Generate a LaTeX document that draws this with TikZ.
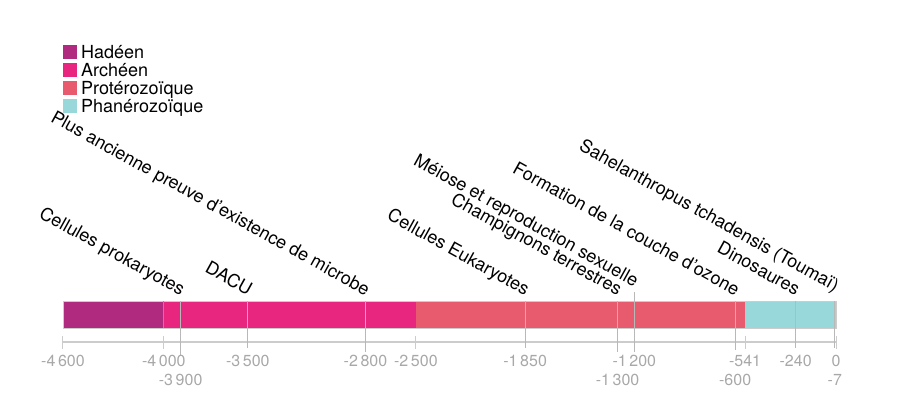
\documentclass[tikz,border=0pt]{standalone}
\usepackage{fontspec}
\setmainfont{TeX Gyre Heros}
\definecolor{hadeen}{HTML}{B02A7F}
\definecolor{archeen}{HTML}{E8257F}
\definecolor{proterozoique}{HTML}{E85A6E}
\definecolor{phanerozoique}{HTML}{98D8DA}
\definecolor{chiffres}{HTML}{A8A8A8}
\definecolor{axe}{HTML}{CCCCCC}
\definecolor{repere}{HTML}{B8B8B8}
\tikzset{
  evenement/.style={rotate=-29, anchor=base east, inner sep=0pt, font=\fontsize{18}{20}\selectfont},
  annee/.style={anchor=base, inner sep=0pt, text=chiffres, font=\fontsize{16}{18}\selectfont},
  legende/.style={anchor=base west, inner sep=0pt, font=\fontsize{18}{20}\selectfont},
}
\begin{document}
\begin{tikzpicture}[x=1pt,y=-1pt]
\useasboundingbox (0,0) rectangle (900,405);
% la légende
\fill[hadeen] (63,45) rectangle (77,59);
\node[legende] (lhadeen) at (81,58) {Hadéen};
\fill[archeen] (63,63) rectangle (77,77);
\node[legende] (larcheen) at (81,76) {Archéen};
\fill[proterozoique] (63,81) rectangle (77,95);
\node[legende] (lproterozoique) at (81,94) {Protérozoïque};
\fill[phanerozoique] (63,99) rectangle (77,113);
\node[legende] (lphanerozoique) at (81,112) {Phanérozoïque};
\begin{scope}[xshift=836pt, x=0.168043pt]
  % les quatre ères
  \fill[hadeen] (-4600,301) rectangle (-4000,328);
  \fill[archeen] (-4000,301) rectangle (-2500,328);
  \fill[proterozoique] (-2500,301) rectangle (-541,328);
  \fill[phanerozoique] (-541,301) rectangle (0,328);
  \draw[axe, line width=0.6pt] (-4600,301) rectangle (0,328);
  \draw[repere!80!black, line width=0.8pt] (-4000,301) -- (-4000,328);
  % l'axe et ses graduations
  \coordinate (debut) at (-4600,342);
  \coordinate (fin) at (0,342);
  \draw[axe, line width=1.5pt] (debut) -- (fin);
  \foreach \t in {-4600,-4000,-2500,-541,0}
    \draw[axe, line width=1pt] (\t,336) -- (\t,349);
  % les traits des événements
  \foreach \t/\h/\b in {-3900/301/355, -3500/301/348, -2800/301/352, -1850/301/348,
      -1300/301/352, -1200/292/352, -600/301/350, -240/301/348, -7/301/348} {
    \coordinate (haut\t) at (\t,\h);
    \coordinate (bas\t) at (\t,\b);
    \draw[repere, line width=0.9pt] (haut\t) -- (bas\t);
  }
  % les années
  \foreach \t/\y/\txt in {-4600/366/-4\,600, -4000/366/-4\,000, -3900/385/-3\,900,
      -3500/366/-3\,500, -2800/366/-2\,800, -2500/366/-2\,500, -1850/366/-1\,850,
      -1200/366/-1\,200, -1300/385/-1\,300, -541/366/-541, -600/385/-600,
      -240/366/-240, 0/366/0, -7/385/-7}
    \node[annee] (a\t) at (\t,\y) {\txt};
  % les événements
  \node[evenement] (procaryotes) at (-3900,296) {Cellules prokaryotes};
  \node[evenement] (dacu) at (-3500,296) {DACU};
  \node[evenement] (microbe) at (-2800,296) {Plus ancienne preuve d'existence de microbe};
  \node[evenement] (eucaryotes) at (-1850,296) {Cellules Eukaryotes};
  \node[evenement] (champignons) at (-1300,296) {Champignons terrestres};
  \node[evenement] (meiose) at (-1200,287) {Méiose et reproduction sexuelle};
  \node[evenement] (ozone) at (-600,296) {Formation de la couche d'ozone};
  \node[evenement] (dinosaures) at (-240,296) {Dinosaures};
  \node[evenement] (toumai) at (-7,292) {Sahelanthropus tchadensis (Toumaï)};
\end{scope}
\end{tikzpicture}
\end{document}
